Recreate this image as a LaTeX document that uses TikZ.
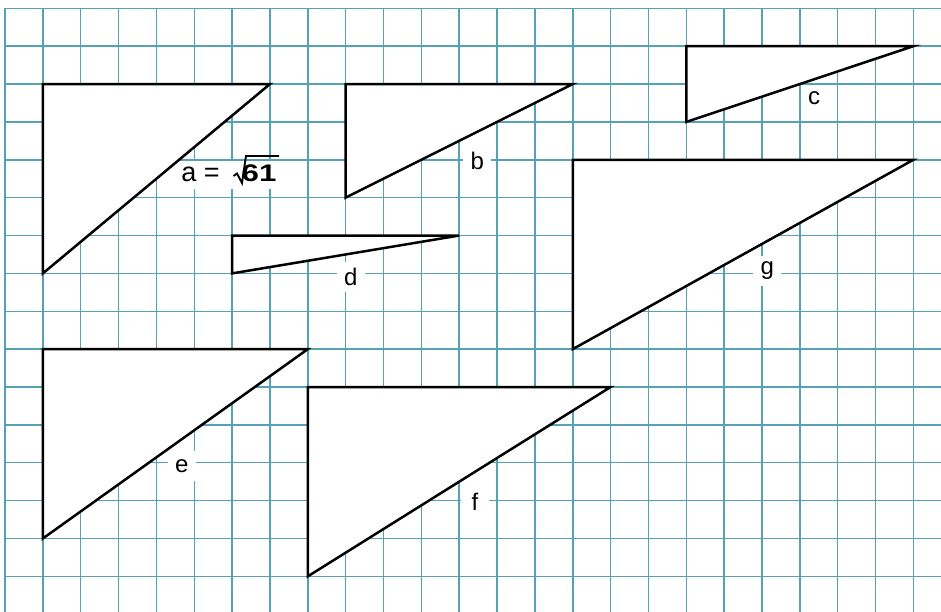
\documentclass[tikz,border=0pt]{standalone}
\usepackage{fontspec}
\setmainfont{Liberation Sans}
\usepackage{graphicx}
\definecolor{gridc}{RGB}{85,162,180}
\begin{document}
\begin{tikzpicture}[x=1pt,y=-1pt,
  gridline/.style={draw=gridc, line width=1.5pt},
  tri/.style={draw=black, line width=2.5pt, fill=white, line join=miter},
  lbl/.style={fill=white, inner sep=0pt, minimum width=28pt, minimum height=30pt, font=\fontsize{24}{28}\selectfont}]
\useasboundingbox (0,0) rectangle (941,612);
\fill[white] (0,0) rectangle (941,612);
\begin{scope}[shift={(5,8.3)}, x=37.85pt, y=-37.87pt]
  \foreach \i in {0,...,24} \draw[gridline] (\i,0) -- (\i,15.97);
  \foreach \j in {0,...,15} \draw[gridline] (0,\j) -- (24.75,\j);
  % triangle a
  \coordinate (A1) at (1,2); \coordinate (A2) at (7,2); \coordinate (A3) at (1,7);
  \draw[tri] (A1) -- (A2) -- (A3) -- cycle;
  % triangle b
  \coordinate (B1) at (9,2); \coordinate (B2) at (15,2); \coordinate (B3) at (9,5);
  \draw[tri] (B1) -- (B2) -- (B3) -- cycle;
  % triangle c
  \coordinate (C1) at (18,1); \coordinate (C2) at (24,1); \coordinate (C3) at (18,3);
  \draw[tri] (C1) -- (C2) -- (C3) -- cycle;
  % triangle d
  \coordinate (D1) at (6,6); \coordinate (D2) at (12,6); \coordinate (D3) at (6,7);
  \draw[tri] (D1) -- (D2) -- (D3) -- cycle;
  % triangle g
  \coordinate (G1) at (15,4); \coordinate (G2) at (24,4); \coordinate (G3) at (15,9);
  \draw[tri] (G1) -- (G2) -- (G3) -- cycle;
  % triangle e
  \coordinate (E1) at (1,9); \coordinate (E2) at (8,9); \coordinate (E3) at (1,14);
  \draw[tri] (E1) -- (E2) -- (E3) -- cycle;
  % triangle f
  \coordinate (F1) at (8,10); \coordinate (F2) at (16,10); \coordinate (F3) at (8,15);
  \draw[tri] (F1) -- (F2) -- (F3) -- cycle;
\end{scope}
% label a
\fill[white] (180,161) rectangle (282,189);
\node[anchor=base, inner sep=0pt, font=\fontsize{27}{30}\selectfont] (la) at (200.5,182) {a =};
\node[anchor=base west, inner sep=0pt, font=\fontsize{24}{28}\selectfont\bfseries] (l61) at (241.5,182) {\scalebox{1.3}[1]{61}};
\draw[line width=1.9pt, line join=miter] (233.5,176) -- (237,173.5) -- (242,183) -- (246,156) -- (279,156);
% other labels
\node[lbl] (lb) at (477.3,160.7) {b};
\node[lbl, fill=none] (lc) at (814,97.7) {c};
\node[lbl] (ld) at (350.7,276.7) {d};
\node[lbl] (le) at (181.7,466) {e};
\node[lbl] (lf) at (475,501.7) {f};
\node[lbl] (lg) at (767.3,270.7) {g};
\end{tikzpicture}
\end{document}
